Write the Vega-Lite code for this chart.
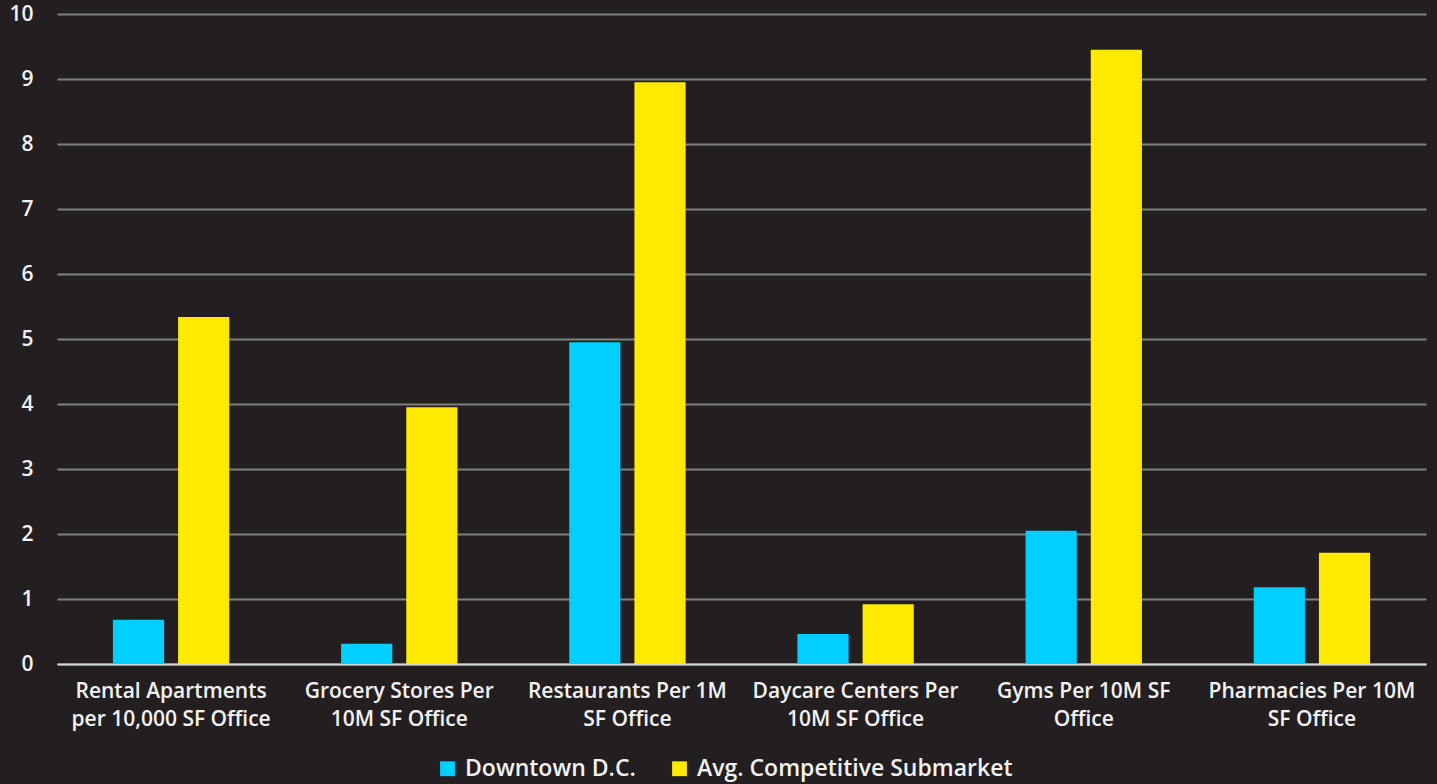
{
  "$schema": "https://vega.github.io/schema/vega-lite/v6.json",
  "width": 1369,
  "height": 650,
  "autosize": {"type": "none"},
  "padding": {"left": 57, "top": 14, "right": 11, "bottom": 120},
  "background": "#231f20",
  "config": {
    "view": {"stroke": null},
    "font": "Open Sans",
    "axis": {"labelFont": "Open Sans", "labelColor": "#f2f2f2", "labelFontSize": 21, "labelFontWeight": 600},
    "legend": {"labelFont": "Open Sans", "labelColor": "#f2f2f2", "labelFontSize": 23, "labelFontWeight": 600}
  },
  "data": {
    "values": [
      {"metric": "Rental Apartments|per 10,000 SF Office", "series": "Downtown D.C.", "value": 0.68},
      {"metric": "Rental Apartments|per 10,000 SF Office", "series": "Avg. Competitive Submarket", "value": 5.34},
      {"metric": "Grocery Stores Per|10M SF Office", "series": "Downtown D.C.", "value": 0.31},
      {"metric": "Grocery Stores Per|10M SF Office", "series": "Avg. Competitive Submarket", "value": 3.95},
      {"metric": "Restaurants Per 1M|SF Office", "series": "Downtown D.C.", "value": 4.95},
      {"metric": "Restaurants Per 1M|SF Office", "series": "Avg. Competitive Submarket", "value": 8.95},
      {"metric": "Daycare Centers Per|10M SF Office", "series": "Downtown D.C.", "value": 0.46},
      {"metric": "Daycare Centers Per|10M SF Office", "series": "Avg. Competitive Submarket", "value": 0.92},
      {"metric": "Gyms Per 10M SF|Office", "series": "Downtown D.C.", "value": 2.05},
      {"metric": "Gyms Per 10M SF|Office", "series": "Avg. Competitive Submarket", "value": 9.45},
      {"metric": "Pharmacies Per 10M|SF Office", "series": "Downtown D.C.", "value": 1.18},
      {"metric": "Pharmacies Per 10M|SF Office", "series": "Avg. Competitive Submarket", "value": 1.71}
    ]
  },
  "mark": {"type": "bar"},
  "encoding": {
    "x": {
      "field": "metric",
      "type": "nominal",
      "sort": null,
      "title": null,
      "scale": {"paddingInner": 0.49, "paddingOuter": 0.245},
      "axis": {
        "labelAngle": 0,
        "labelExpr": "split(datum.label, '|')",
        "labelLineHeight": 28,
        "labelPadding": 16,
        "labelBaseline": "top",
        "ticks": false,
        "domainColor": "#d9d9d9",
        "domainWidth": 2,
        "labelLimit": 300
      }
    },
    "xOffset": {
      "field": "series",
      "type": "nominal",
      "sort": ["Downtown D.C.", "Avg. Competitive Submarket"],
      "scale": {"paddingInner": 0.215, "paddingOuter": 0}
    },
    "y": {
      "field": "value",
      "type": "quantitative",
      "title": null,
      "scale": {"domain": [0, 10], "nice": false},
      "axis": {
        "values": [0, 1, 2, 3, 4, 5, 6, 7, 8, 9, 10],
        "grid": true,
        "gridColor": "#808080",
        "gridWidth": 2,
        "domain": false,
        "ticks": false,
        "labelPadding": 24
      }
    },
    "color": {
      "field": "series",
      "type": "nominal",
      "sort": ["Downtown D.C.", "Avg. Competitive Submarket"],
      "scale": {"domain": ["Downtown D.C.", "Avg. Competitive Submarket"], "range": ["#00cfff", "#ffe900"]},
      "legend": {
        "title": null,
        "orient": "none",
        "direction": "horizontal",
        "legendX": 379,
        "legendY": 743,
        "symbolType": "square",
        "symbolSize": 220,
        "symbolStrokeWidth": 0,
        "symbolOpacity": 1,
        "columnPadding": 32,
        "labelOffset": 6,
        "labelLimit": 400
      }
    }
  }
}
